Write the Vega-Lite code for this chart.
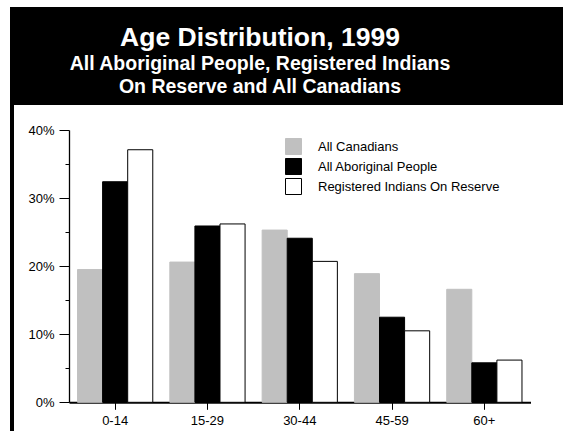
{
  "$schema": "https://vega.github.io/schema/vega-lite/v6.json",
  "padding": {"left": 10, "top": 7, "right": 0, "bottom": 0},
  "background": "white",
  "spacing": 0,
  "config": {"font": "Liberation Sans", "view": {"stroke": null}},
  "vconcat": [
    {
      "width": 553,
      "height": 98,
      "view": {"fill": "black", "stroke": null},
      "data": {"values": [
        {"line": 1, "text": "Age Distribution, 1999"},
        {"line": 2, "text": "All Aboriginal People, Registered Indians"},
        {"line": 3, "text": "On Reserve and All Canadians"}
      ]},
      "mark": {"type": "text", "color": "white", "fontWeight": "bold", "baseline": "alphabetic", "align": "center", "font": "Liberation Sans", "x": 250},
      "encoding": {
        "y": {"field": "line", "type": "ordinal", "axis": null, "scale": {"type": "point", "range": [39, 86.3], "padding": 0}},
        "text": {"field": "text"},
        "size": {"condition": {"test": "datum.line == 1", "value": 26.5}, "value": 19.5}
      }
    },
    {
      "spacing": 0,
      "hconcat": [
        {
          "width": 4,
          "height": 326,
          "view": {"fill": "black", "stroke": null},
          "data": {"values": []},
          "mark": "point"
        },
        {
          "width": 549,
          "height": 326,
          "view": {"fill": "white", "stroke": null},
          "data": {"values": [
            {"age": "0-14", "series": "All Canadians", "value": 0.195},
            {"age": "0-14", "series": "All Aboriginal People", "value": 0.324},
            {"age": "0-14", "series": "Registered Indians On Reserve", "value": 0.371},
            {"age": "15-29", "series": "All Canadians", "value": 0.206},
            {"age": "15-29", "series": "All Aboriginal People", "value": 0.259},
            {"age": "15-29", "series": "Registered Indians On Reserve", "value": 0.262},
            {"age": "30-44", "series": "All Canadians", "value": 0.253},
            {"age": "30-44", "series": "All Aboriginal People", "value": 0.241},
            {"age": "30-44", "series": "Registered Indians On Reserve", "value": 0.207},
            {"age": "45-59", "series": "All Canadians", "value": 0.189},
            {"age": "45-59", "series": "All Aboriginal People", "value": 0.125},
            {"age": "45-59", "series": "Registered Indians On Reserve", "value": 0.105},
            {"age": "60+", "series": "All Canadians", "value": 0.166},
            {"age": "60+", "series": "All Aboriginal People", "value": 0.058},
            {"age": "60+", "series": "Registered Indians On Reserve", "value": 0.062}
          ]},
          "mark": {"type": "bar", "strokeWidth": 1},
          "encoding": {
            "x": {
              "field": "age", "type": "nominal",
              "sort": ["0-14", "15-29", "30-44", "45-59", "60+"],
              "scale": {"range": [55, 516.5], "paddingInner": 0, "paddingOuter": 0},
              "axis": {"title": null, "orient": "bottom", "offset": -28.7, "labelAngle": 0, "labelFontSize": 13, "labelFont": "Liberation Sans", "labelColor": "black", "tickColor": "black", "tickSize": 7, "labelPadding": 5, "domainColor": "black", "domainWidth": 2, "grid": false}
            },
            "xOffset": {
              "field": "series", "type": "nominal",
              "sort": ["All Canadians", "All Aboriginal People", "Registered Indians On Reserve"],
              "scale": {"paddingOuter": 0.34, "paddingInner": 0}
            },
            "y": {
              "field": "value", "type": "quantitative",
              "scale": {"domain": [0, 0.4], "range": [297.3, 25], "nice": false},
              "axis": {
                "title": null, "orient": "left", "offset": -55, "grid": false,
                "values": [0, 0.05, 0.1, 0.15, 0.2, 0.25, 0.3, 0.35, 0.4],
                "labelExpr": "round(datum.value*100) % 10 == 0 ? round(datum.value*100) + '%' : ''",
                "tickSize": {"condition": {"test": "round(datum.value*100) % 10 == 0", "value": 10}, "value": 4},
                "labelPadding": 5, "labelFontSize": 13, "labelFont": "Liberation Sans", "labelColor": "black",
                "tickColor": "black", "domainColor": "black", "domainWidth": 1.3
              }
            },
            "color": {
              "field": "series", "type": "nominal",
              "scale": {"domain": ["All Canadians", "All Aboriginal People", "Registered Indians On Reserve"], "range": ["#c0c0c0", "#000000", "#ffffff"]},
              "legend": {"title": null, "orient": "none", "legendX": 275, "legendY": 131, "symbolType": "square", "symbolSize": 256, "labelFontSize": 13, "labelFont": "Liberation Sans", "labelColor": "black", "labelLimit": 400, "rowPadding": -1, "labelOffset": 16, "padding": 0, "symbolStrokeWidth": 1, "symbolOpacity": 1}
            },
            "stroke": {
              "field": "series", "type": "nominal",
              "scale": {"domain": ["All Canadians", "All Aboriginal People", "Registered Indians On Reserve"], "range": ["#c0c0c0", "#000000", "#000000"]},
              "legend": {"title": null, "orient": "none", "legendX": 275, "legendY": 131, "symbolType": "square", "symbolSize": 256, "labelFontSize": 13, "labelFont": "Liberation Sans", "labelColor": "black", "labelLimit": 400, "rowPadding": -1, "labelOffset": 16, "padding": 0, "symbolStrokeWidth": 1, "symbolOpacity": 1}
            }
          }
        }
      ]
    }
  ]
}
